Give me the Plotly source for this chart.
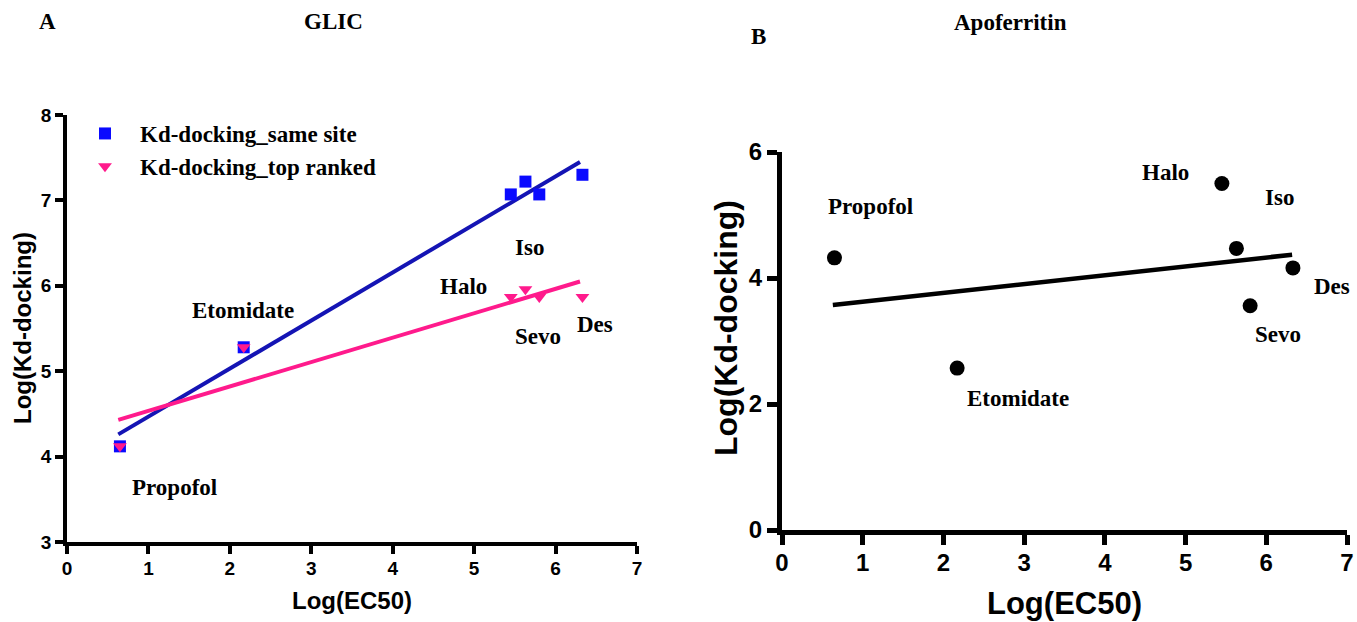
import plotly.graph_objects as go

# ---------------- Data ----------------
drugs = ["Propofol", "Etomidate", "Halo", "Iso", "Sevo", "Des"]
log_ec50 = [0.65, 2.17, 5.45, 5.63, 5.80, 6.33]

# Panel A (GLIC)
glic_same_site = [4.12, 5.28, 7.07, 7.22, 7.07, 7.30]
glic_top_ranked = [4.12, 5.28, 5.87, 5.96, 5.87, 5.87]
glic_fit_x = [0.63, 6.30]
glic_same_fit_y = [4.26, 7.45]
glic_top_fit_y = [4.43, 6.05]

# Panel B (Apoferritin)
apo_kd = [4.32, 2.57, 5.50, 4.47, 3.56, 4.16]
apo_fit_x = [0.63, 6.32]
apo_fit_y = [3.57, 4.37]

# label positions (data coords)
glic_label_x = [1.32, 2.16, 4.87, 5.68, 5.78, 6.48]
glic_label_y = [3.64, 5.71, 5.99, 6.45, 5.41, 5.55]
apo_label_x = [1.10, 2.92, 4.75, 6.16, 6.14, 6.81]
apo_label_y = [5.14, 2.09, 5.67, 5.27, 3.10, 3.87]

W, H = 1357, 622
SERIF = "Liberation Serif"
SANS = "Liberation Sans"

BLUE = "#0a0aff"
BLUE_LINE = "#1414b4"
PINK = "#ff1a8c"

fig = go.Figure()

# Panel A
fig.add_trace(go.Scatter(x=glic_fit_x, y=glic_same_fit_y, mode="lines",
                         line=dict(color=BLUE_LINE, width=4), showlegend=False,
                         xaxis="x", yaxis="y"))
fig.add_trace(go.Scatter(x=glic_fit_x, y=glic_top_fit_y, mode="lines",
                         line=dict(color=PINK, width=4), showlegend=False,
                         xaxis="x", yaxis="y"))
fig.add_trace(go.Scatter(x=log_ec50, y=glic_same_site, mode="markers",
                         name="Kd-docking_same site", legendgroup="a",
                         marker=dict(symbol="square", size=12, color=BLUE),
                         xaxis="x", yaxis="y"))
fig.add_trace(go.Scatter(x=log_ec50, y=glic_top_ranked, mode="markers",
                         name="Kd-docking_top ranked", legendgroup="b",
                         marker=dict(symbol="triangle-down", size=12, color=PINK),
                         xaxis="x", yaxis="y"))

# Panel B
fig.add_trace(go.Scatter(x=apo_fit_x, y=apo_fit_y, mode="lines",
                         line=dict(color="black", width=4.5), showlegend=False,
                         xaxis="x2", yaxis="y2"))
fig.add_trace(go.Scatter(x=log_ec50, y=apo_kd, mode="markers", showlegend=False,
                         marker=dict(symbol="circle", size=15, color="black"),
                         xaxis="x2", yaxis="y2"))


def px_x(p):
    return p / W


def px_y(p):
    return 1 - p / H


def bold(family, size):
    return dict(family=family, size=size, color="black", weight="bold")


annotations = []
for name, lx, ly in zip(drugs, glic_label_x, glic_label_y):
    annotations.append(dict(x=lx, y=ly, xref="x", yref="y", text=name,
                            showarrow=False, font=bold(SERIF, 23)))
for name, lx, ly in zip(drugs, apo_label_x, apo_label_y):
    annotations.append(dict(x=lx, y=ly, xref="x2", yref="y2", text=name,
                            showarrow=False, font=bold(SERIF, 23)))

# panel titles
titles = [("A", 47, 22), ("GLIC", 333, 22), ("B", 759, 37), ("Apoferritin", 1010, 23)]
for t, x, y in titles:
    annotations.append(dict(x=px_x(x), y=px_y(y), xref="paper", yref="paper",
                            xanchor="center", yanchor="middle",
                            text=t, showarrow=False, font=bold(SERIF, 23)))

# axis titles
axis_titles = [
    ("Log(EC50)", 352, 600, 0, 24),
    ("Log(Kd-docking)", 23, 328, -90, 24),
    ("Log(EC50)", 1064, 603, 0, 31),
    ("Log(Kd-docking)", 726, 328, -90, 32),
]
for t, x, y, ang, sz in axis_titles:
    annotations.append(dict(x=px_x(x), y=px_y(y), xref="paper", yref="paper",
                            xanchor="center", yanchor="middle", textangle=ang,
                            text=t, showarrow=False, font=bold(SANS, sz)))

axis_common = dict(showgrid=False, zeroline=False, showline=True, linecolor="black",
                   ticks="outside", tickcolor="black", mirror=False, automargin=False)

fig.update_layout(
    width=W, height=H,
    margin=dict(l=0, r=0, t=0, b=0),
    paper_bgcolor="white", plot_bgcolor="white",
    annotations=annotations,
    xaxis=dict(**axis_common, domain=[67 / W, 637 / W], range=[0, 7], dtick=1,
               anchor="y", linewidth=3.5, tickwidth=3.5, ticklen=8, ticklabelstandoff=-2,
               tickfont=bold(SANS, 19)),
    yaxis=dict(**axis_common, domain=[px_y(542), px_y(115)], range=[3, 8], dtick=1,
               anchor="x", linewidth=3.5, tickwidth=3.5, ticklen=8,
               tickfont=bold(SANS, 19)),
    xaxis2=dict(**axis_common, domain=[782 / W, 1347 / W], range=[0, 7], dtick=1,
                anchor="y2", linewidth=5, tickwidth=5, ticklen=10, ticklabelstandoff=-3,
                tickfont=bold(SANS, 24)),
    yaxis2=dict(**axis_common, domain=[px_y(530), px_y(152)], range=[0, 6], dtick=2,
                anchor="x2", linewidth=5, tickwidth=5, ticklen=10,
                tickfont=bold(SANS, 24)),
    legend=dict(x=px_x(70), y=px_y(112), xanchor="left", yanchor="top",
                bgcolor="rgba(0,0,0,0)", borderwidth=0, tracegroupgap=0,
                itemwidth=60, font=bold(SERIF, 23)),
)

fig.write_html("out.html", config={"displayModeBar": False},
               post_script="document.body.style.margin='0';")
